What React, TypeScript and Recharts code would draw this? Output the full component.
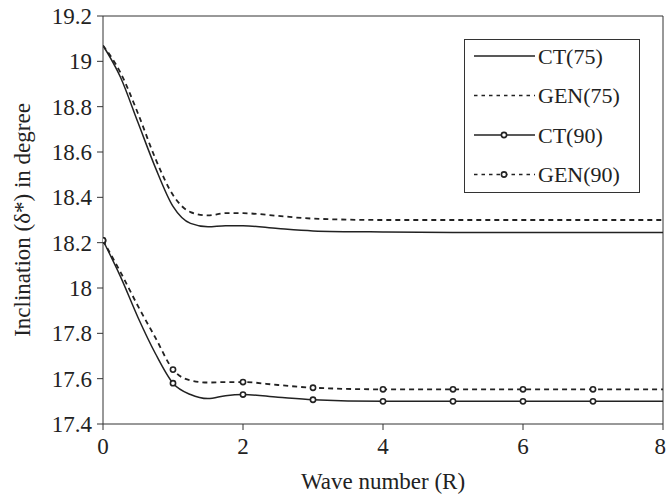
import React from 'react';
import { LineChart, Line, XAxis, YAxis, ReferenceLine } from 'recharts';

// wave number R
const waveNumbers = [0, 0.25, 0.5, 0.75, 1, 1.25, 1.5, 1.75, 2, 2.5, 3, 4, 5, 6, 7, 8];
// inclination values, degree
const ct75 = [19.07, 18.93, 18.73, 18.53, 18.36, 18.285, 18.27, 18.275, 18.275, 18.262, 18.252, 18.247, 18.245, 18.245, 18.245, 18.245];
const gen75 = [19.07, 18.95, 18.77, 18.57, 18.41, 18.335, 18.32, 18.33, 18.33, 18.318, 18.306, 18.3, 18.3, 18.3, 18.3, 18.3];
const ct90 = [18.21, 18.05, 17.87, 17.71, 17.58, 17.53, 17.512, 17.525, 17.53, 17.518, 17.507, 17.5, 17.5, 17.5, 17.5, 17.5];
const gen90 = [18.21, 18.07, 17.92, 17.78, 17.64, 17.592, 17.583, 17.585, 17.585, 17.572, 17.56, 17.553, 17.553, 17.553, 17.553, 17.553];

const xTicks = [0, 2, 4, 6, 8];
const yTicks = [17.4, 17.6, 17.8, 18, 18.2, 18.4, 18.6, 18.8, 19, 19.2];

const seriesNames = ['CT(75)', 'GEN(75)', 'CT(90)', 'GEN(90)'];

const data = waveNumbers.map((x, i) => ({
  x,
  ct75: ct75[i],
  gen75: gen75[i],
  ct90: ct90[i],
  gen90: gen90[i],
}));

const FONT = '"Liberation Serif", "Times New Roman", serif';
const INK = '#222';

// open circles only at the integer wave numbers 0..7
const renderMarker = (props: any) => {
  const { cx, cy, payload, index } = props;
  if (!Number.isInteger(payload.x) || payload.x > 7) return <g key={`m-${index}`} />;
  return <circle key={`m-${index}`} cx={cx} cy={cy} r={2.6} fill="#fff" stroke={INK} strokeWidth={1.6} />;
};

const YTitle = ({ viewBox }: any) => {
  const cx = 22;
  const cy = viewBox.y + viewBox.height / 2;
  return (
    <text
      x={cx}
      y={cy}
      transform={`rotate(-90 ${cx} ${cy})`}
      textAnchor="middle"
      dominantBaseline="central"
      fontFamily={FONT}
      fontSize={23}
      fill={INK}
    >
      Inclination (δ*) in degree
    </text>
  );
};

// legend drawn as an overlay box so it doesn't shrink the plot
const LegendBox = () => {
  const styles = [
    { dash: undefined, marker: false },
    { dash: '3.5 4', marker: false },
    { dash: undefined, marker: true },
    { dash: '3.5 4', marker: true },
  ];
  return (
    <div
      style={{
        position: 'absolute',
        left: 464,
        top: 39,
        width: 174,
        height: 152,
        border: '1px solid #333',
        background: '#fff',
      }}
    >
      <svg width={174} height={152} style={{ display: 'block' }}>
        {seriesNames.map((name, i) => {
          const y = 16 + i * 39.5;
          return (
            <g key={name}>
              <line x1={9} x2={70} y1={y} y2={y} stroke={INK} strokeWidth={1.5} strokeDasharray={styles[i].dash} />
              {styles[i].marker && (
                <circle cx={39} cy={y} r={2.6} fill="#fff" stroke={INK} strokeWidth={1.6} />
              )}
              <text x={73} y={y} dominantBaseline="central" fontFamily={FONT} fontSize={22} fill={INK}>
                {name}
              </text>
            </g>
          );
        })}
      </svg>
    </div>
  );
};

export default function App() {
  return (
    <div style={{ position: 'absolute', left: 0, top: 0, width: 666, height: 496, background: '#fff' }}>
      <LineChart width={666} height={496} data={data} margin={{ top: 16, right: 3, bottom: 0, left: 0 }}>
        <XAxis
          dataKey="x"
          type="number"
          domain={[0, 8]}
          ticks={xTicks}
          allowDataOverflow
          tickSize={6}
          tickMargin={8}
          height={72}
          stroke="#333"
          tick={{ fill: INK, fontSize: 23, fontFamily: FONT }}
          label={{ value: 'Wave number (R)', position: 'insideBottom', offset: 7, fill: INK, fontSize: 23, fontFamily: FONT }}
        />
        <YAxis
          type="number"
          domain={[17.4, 19.2]}
          ticks={yTicks}
          allowDataOverflow
          interval={0}
          width={103}
          tickSize={6}
          tickMargin={5}
          stroke="#333"
          tick={{ fill: INK, fontSize: 23, fontFamily: FONT }}
          label={<YTitle />}
        />
        <ReferenceLine y={19.2} stroke="#333" strokeWidth={1} />
        <ReferenceLine x={8} stroke="#333" strokeWidth={1} />
        <Line dataKey="ct75" name={seriesNames[0]} type="monotone" stroke={INK} strokeWidth={1.5} dot={false} isAnimationActive={false} />
        <Line dataKey="gen75" name={seriesNames[1]} type="monotone" stroke={INK} strokeWidth={1.8} strokeDasharray="5 4" dot={false} isAnimationActive={false} />
        <Line dataKey="ct90" name={seriesNames[2]} type="monotone" stroke={INK} strokeWidth={1.5} dot={renderMarker} isAnimationActive={false} />
        <Line dataKey="gen90" name={seriesNames[3]} type="monotone" stroke={INK} strokeWidth={1.8} strokeDasharray="5 4" dot={renderMarker} isAnimationActive={false} />
      </LineChart>
      <LegendBox />
    </div>
  );
}
